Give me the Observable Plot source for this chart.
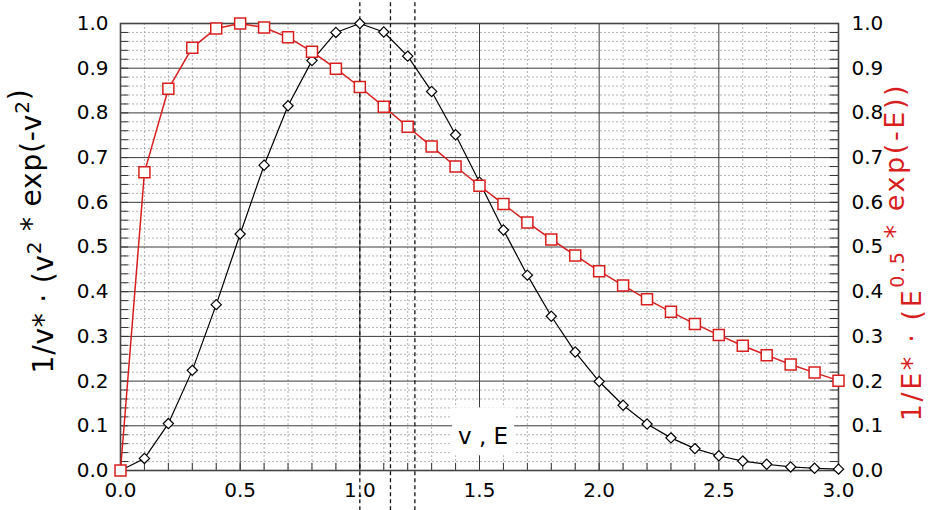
<!DOCTYPE html>
<html><head><meta charset="utf-8">
<script src="https://cdn.jsdelivr.net/npm/d3@7"></script>
<script src="https://cdn.jsdelivr.net/npm/@observablehq/plot@0.6"></script>
<style>body{margin:0;background:#fff} #chart svg{display:block}</style>
</head><body><div id="chart"></div>
<script>
// x positions (v or E)
const xValues = [0,0.1,0.2,0.3,0.4,0.5,0.6,0.7,0.8,0.9,1.0,1.1,1.2,1.3,1.4,1.5,1.6,1.7,1.8,1.9,2.0,2.1,2.2,2.3,2.4,2.5,2.6,2.7,2.8,2.9,3.0];
// black series (speed distribution, normalised)
const speedValues = [0,0.027,0.105,0.224,0.371,0.529,0.683,0.816,0.917,0.980,1.000,0.981,0.927,0.848,0.751,0.645,0.538,0.437,0.345,0.265,0.199,0.146,0.104,0.073,0.049,0.033,0.021,0.014,0.008,0.005,0.003];
// red series (energy distribution, normalised)
const energyValues = [0,0.667,0.854,0.946,0.989,1.000,0.991,0.969,0.937,0.899,0.858,0.814,0.769,0.725,0.680,0.637,0.596,0.555,0.517,0.481,0.446,0.414,0.383,0.355,0.328,0.303,0.279,0.258,0.237,0.219,0.201];
// dashed reference lines
const markerLines = [1.0, 1.128, 1.23];
// tick labels
const xTickLabels = ["0.0","0.5","1.0","1.5","2.0","2.5","3.0"];
const yTickLabels = ["0.0","0.1","0.2","0.3","0.4","0.5","0.6","0.7","0.8","0.9","1.0"];

const speed = xValues.map((x, i) => ({x, y: speedValues[i]}));
const energy = xValues.map((x, i) => ({x, y: energyValues[i]}));
const xMajor = xTickLabels.map(Number);
const yMajor = yTickLabels.map(Number);
const xMinor = d3.range(0, 31).filter(i => i % 5 !== 0).map(i => i / 10);
const xAllTicks = d3.range(1, 30).map(i => i / 10);
const yMinor = d3.range(0, 51).filter(i => i % 5 !== 0).map(i => i / 50);
const yAllTicks = d3.range(1, 50).map(i => i / 50);
const RED = "#d81e1e";

const chart = Plot.plot({
  width: 930, height: 510,
  marginLeft: 120, marginRight: 92, marginTop: 23, marginBottom: 40,
  x: {domain: [0, 3], axis: null},
  y: {domain: [0, 1], axis: null},
  style: {fontFamily: "DejaVu Sans", fontSize: "20px", background: "white", color: "black"},
  marks: [
    Plot.gridX(xMinor, {stroke: "#a0a0a0", strokeOpacity: 1, strokeDasharray: "2,2", strokeWidth: 0.8}),
    Plot.gridY(yMinor, {stroke: "#a0a0a0", strokeOpacity: 1, strokeDasharray: "2,2", strokeWidth: 0.8}),
    Plot.gridX(xMajor, {stroke: "#3a3a3a", strokeOpacity: 1, strokeWidth: 1}),
    Plot.gridY(yMajor, {stroke: "#3a3a3a", strokeOpacity: 1, strokeWidth: 1}),
    // inward tick marks
    Plot.ruleX(xAllTicks, {y1: 0, y2: 0.016, stroke: "#333", strokeWidth: 1}),
    Plot.ruleY(yAllTicks, {x1: 0, x2: 0.034, stroke: "#333", strokeWidth: 1}),
    Plot.ruleY(yAllTicks, {x1: 3, x2: 2.966, stroke: "#333", strokeWidth: 1}),
    Plot.frame({stroke: "#444", strokeWidth: 1.6}),
    Plot.axisX(xMajor, {anchor: "bottom", tickSize: 0, tickPadding: 12, tickFormat: d3.format(".1f"), fontSize: 20, label: null}),
    Plot.axisY(yMajor, {anchor: "left", tickSize: 0, tickPadding: 12, tickFormat: d3.format(".1f"), fontSize: 20, label: null}),
    Plot.axisY(yMajor, {anchor: "right", tickSize: 0, tickPadding: 13, tickFormat: d3.format(".1f"), fontSize: 20, label: null}),
    Plot.ruleX(markerLines, {y1: -0.09, y2: 1.06, stroke: "#111", strokeWidth: 1.3, strokeDasharray: "4,3"}),
    Plot.line(speed, {x: "x", y: "y", stroke: "black", strokeWidth: 1.2}),
    Plot.dot(speed, {x: "x", y: "y", symbol: "diamond2", r: 4.6, stroke: "black", fill: "white", strokeWidth: 1.2}),
    Plot.line(energy, {x: "x", y: "y", stroke: RED, strokeWidth: 1.5}),
    Plot.dot(energy, {x: "x", y: "y", symbol: "square", r: 6.2, stroke: RED, fill: "white", strokeWidth: 1.5})
  ]
});
document.getElementById("chart").appendChild(chart);

const svg = d3.select(chart);
const sx = chart.scale("x"), sy = chart.scale("y");

// "v , E" label with white background
const lab = svg.append("g");
const labText = lab.append("text")
  .attr("x", sx.apply(1.517)).attr("y", sy.apply(0.072))
  .attr("text-anchor", "middle").attr("dominant-baseline", "middle")
  .attr("font-family", "DejaVu Sans").attr("font-size", 23).attr("fill", "black")
  .text("v , E");
const bb = labText.node().getBBox();
lab.insert("rect", "text")
  .attr("x", bb.x - 6).attr("y", bb.y - 16).attr("width", bb.width + 12).attr("height", bb.height + 22)
  .attr("fill", "white");

// axis titles with superscripts
function title(x, y, color, size, spacing, supSize, supShift, parts) {
  const t = svg.append("text")
    .attr("transform", `translate(${x},${y}) rotate(-90)`)
    .attr("text-anchor", "middle")
    .attr("letter-spacing", spacing)
    .attr("font-family", "DejaVu Sans").attr("font-size", size).attr("fill", color);
  parts.forEach(([s, sup]) => {
    if (sup) {
      t.append("tspan").attr("dy", -supShift).attr("font-size", supSize).text(s);
      t.append("tspan").attr("dy", supShift).text("");
    } else {
      t.append("tspan").text(s);
    }
  });
}
title(53, 231, "black", 28, 0.8, 20, 12, [["1/v* · (v"], ["2", true], [" * exp(-v"], ["2", true], [")"]]);
title(921, 252, RED, 27, 2.6, 19, 17, [["1/E* · (E"], ["0.5", true], [" * exp(-E))"]]);
</script></body></html>
